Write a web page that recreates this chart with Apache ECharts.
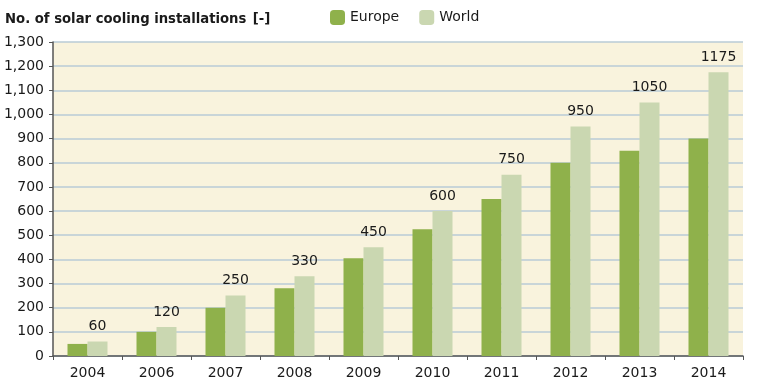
<!DOCTYPE html>
<html><head><meta charset="utf-8">
<script src="https://cdn.jsdelivr.net/npm/echarts@6/dist/echarts.min.js"></script>
<style>html,body{margin:0;padding:0;background:#fff}#c{width:762px;height:388px}</style>
</head><body><div id="c"></div>
<script>
const categories = ['2004','2006','2007','2008','2009','2010','2011','2012','2013','2014'];
const europe = [50,100,200,280,405,525,650,800,850,900];
const world = [60,120,250,330,450,600,750,950,1050,1175];
const yTicks = [0,100,200,300,400,500,600,700,800,900,1000,1100,1200,1300];

const chart = echarts.init(document.getElementById('c'));
const font = 'DejaVu Sans';
const tfont = '"DejaVu Sans Condensed", "DejaVu Sans"';
chart.setOption({
  animation:false,
  textStyle:{fontFamily:font},
  title:{
    left:0, top:5,
    text:'{b|No. of solar cooling installations} {n|[-]}',
    textStyle:{rich:{
      b:{fontFamily:tfont,fontWeight:'bold',fontSize:14.7,color:'#1a1a1a'},
      n:{fontFamily:tfont,fontSize:14.7,color:'#1a1a1a'}
    }}
  },
  legend:{
    left:325, top:5, itemWidth:15, itemHeight:15, itemGap:20,
    textStyle:{fontFamily:font,fontSize:14,color:'#1a1a1a'},
    data:['Europe','World']
  },
  grid:{left:53, right:19, top:42, bottom:32, show:true, backgroundColor:'#f9f3dd', borderWidth:0},
  xAxis:{
    type:'category', data:categories,
    axisLine:{lineStyle:{color:'#555',width:1.5}},
    axisTick:{show:true,length:4,lineStyle:{color:'#555'}},
    axisLabel:{fontFamily:font,fontSize:14,color:'#1a1a1a',margin:10}
  },
  yAxis:{
    type:'value', min:0, max:1300, interval:100,
    axisLine:{show:true,lineStyle:{color:'#555',width:1.5}},
    axisTick:{show:true,length:4,lineStyle:{color:'#555'}},
    splitLine:{lineStyle:{color:'#b9cbd6',width:1.5}},
    axisLabel:{fontFamily:font,fontSize:14,color:'#1a1a1a',margin:9,
      formatter:v=>yTicks.includes(v)?v.toLocaleString('en-US'):''}
  },
  series:[
    {name:'Europe',type:'bar',data:europe,barWidth:20,barGap:'0%',
      itemStyle:{color:'#8fb14b'}},
    {name:'World',type:'bar',data:world,barWidth:20,
      itemStyle:{color:'#cad7b1'},
      label:{show:true,position:'top',distance:8,fontFamily:font,fontSize:14,color:'#1a1a1a'}}
  ]
});
</script></body></html>
